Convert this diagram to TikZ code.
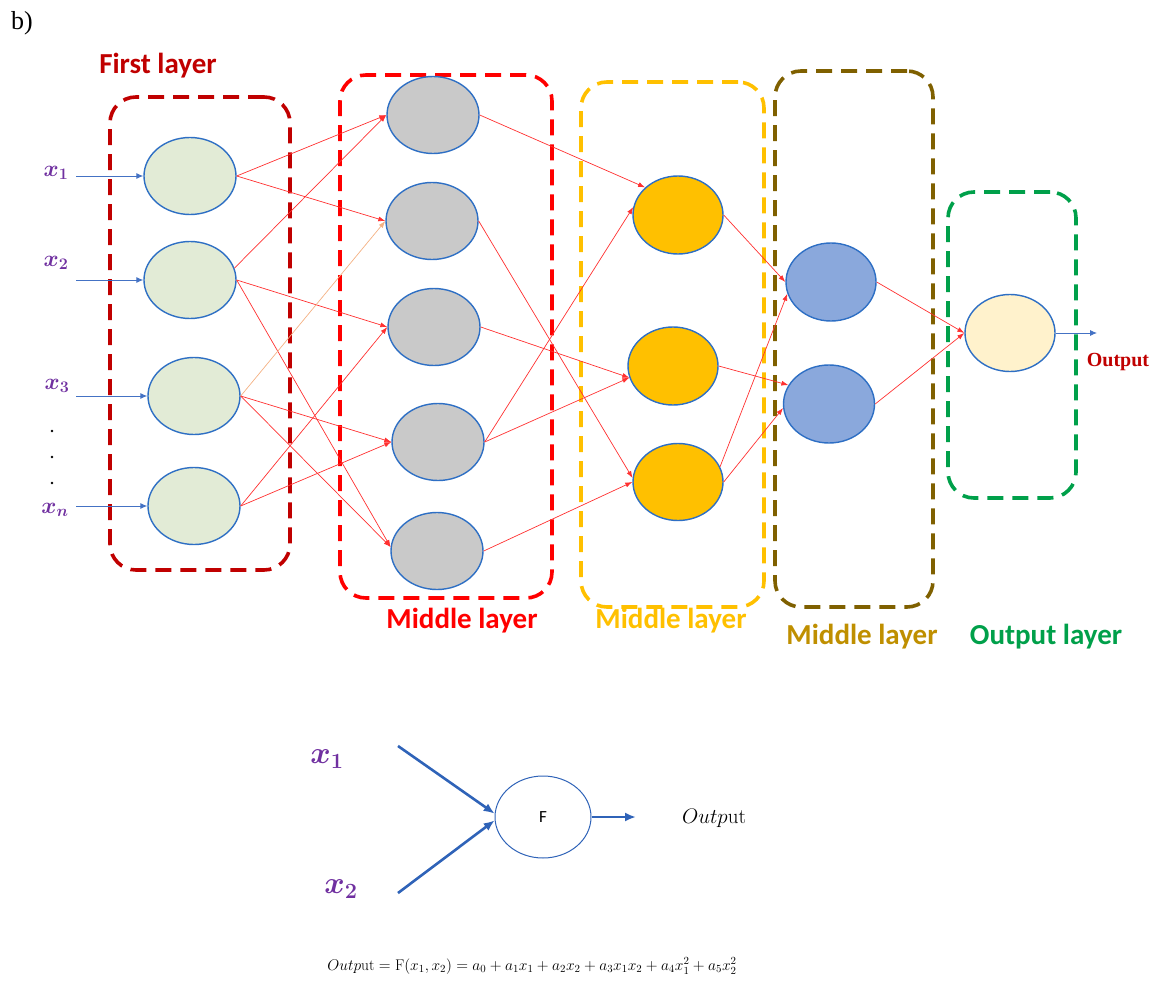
\documentclass[tikz,border=0pt]{standalone}
\usepackage{fix-cm}
\usepackage{amsmath}
\usepackage{fontspec}
\usetikzlibrary{shapes.geometric,arrows.meta}
\newfontfamily\calib{Carlito}
\newfontfamily\tnr{Liberation Serif}
\definecolor{cfirst}{HTML}{C00000}
\definecolor{cmidA}{HTML}{FF0000}
\definecolor{cmidB}{HTML}{FFC000}
\definecolor{cmidC}{HTML}{7F6000}
\definecolor{cmidClab}{HTML}{BF8F00}
\definecolor{cout}{HTML}{00A04A}
\definecolor{gfill}{HTML}{E2EBD6}
\definecolor{grayfill}{HTML}{C9C9C9}
\definecolor{ofill}{HTML}{FFC000}
\definecolor{bfill}{HTML}{8AA8DC}
\definecolor{outfill}{HTML}{FFF2CC}
\definecolor{nblue}{HTML}{2E6FC4}
\definecolor{inblue}{HTML}{4472C4}
\definecolor{xpurple}{HTML}{7030A0}
\definecolor{fblue}{HTML}{2F63B8}
\definecolor{orangeline}{HTML}{F4B183}
\definecolor{redline}{HTML}{FF3030}
\begin{document}
\begin{tikzpicture}[x=1pt,y=-1pt,
  neuron/.style={ellipse, draw=nblue, line width=1.4pt, minimum width=92pt, minimum height=77pt, inner sep=0pt},
  layerbox/.style={draw=#1, rectangle, rounded corners=26pt, line width=3.6pt, dash pattern=on 16pt off 9pt, inner sep=0pt},
  layerlab/.style={text=#1, font=\calib\bfseries\fontsize{29}{33}\selectfont, inner sep=0pt},
  redge/.style={draw=redline, line width=0.7pt, -{Latex[length=7pt,width=5pt]}},
  inarrow/.style={draw=inblue, line width=0.9pt, -{Latex[length=7pt,width=6pt]}},
  xlab/.style={text=xpurple, font=\fontsize{23}{27}\selectfont\boldmath, inner sep=0pt},
  bxlab/.style={text=xpurple, font=\fontsize{31}{35}\selectfont\boldmath, inner sep=0pt},
  bigarrow/.style={draw=fblue, line width=2.6pt, -{Latex[length=11pt,width=9pt]}},
  dotnode/.style={circle, fill=black, inner sep=0pt, minimum size=2.6pt}
]
\useasboundingbox (0,0) rectangle (1158,984);

% label b)
\node[font=\tnr\fontsize{26}{30}\selectfont, inner sep=0pt] (blabel) at (22,23) {b)};

% layer boxes
\node[layerbox=cfirst, minimum width=180pt, minimum height=473pt] (L1) at (200,333.5) {};
\node[layerbox=cmidA, minimum width=212pt, minimum height=523pt] (L2) at (446,336.5) {};
\node[layerbox=cmidB, minimum width=183pt, minimum height=525pt] (L3) at (672.5,344.5) {};
\node[layerbox=cmidC, minimum width=158pt, minimum height=536pt] (L4) at (854,339) {};
\node[layerbox=cout, minimum width=128pt, minimum height=306pt] (L5) at (1012,345) {};

% layer labels
\node[layerlab=cfirst] (T1) at (158,66) {First layer};
\node[layerlab=cmidA] (T2) at (462,621) {Middle layer};
\node[layerlab=cmidB] (T3) at (671,621) {Middle layer};
\node[layerlab=cmidClab] (T4) at (862,637) {Middle layer};
\node[layerlab=cout] (T5) at (1046,637) {Output layer};

% neurons
\node[neuron, fill=gfill] (G1) at (190,176) {};
\node[neuron, fill=gfill] (G2) at (190,280) {};
\node[neuron, fill=gfill] (G3) at (194,396) {};
\node[neuron, fill=gfill] (G4) at (194,506) {};

\node[neuron, fill=grayfill] (M1) at (433,115) {};
\node[neuron, fill=grayfill] (M2) at (432,221) {};
\node[neuron, fill=grayfill] (M3) at (434,327) {};
\node[neuron, fill=grayfill] (M4) at (438,442) {};
\node[neuron, fill=grayfill] (M5) at (437,551) {};

\node[neuron, fill=ofill, minimum width=90pt, minimum height=78pt] (O1) at (678,215) {};
\node[neuron, fill=ofill, minimum width=90pt, minimum height=78pt] (O2) at (673,366) {};
\node[neuron, fill=ofill, minimum width=90pt, minimum height=77pt] (O3) at (678,482) {};

\node[neuron, fill=bfill, minimum width=90pt, minimum height=78pt] (B1) at (831,282) {};
\node[neuron, fill=bfill, minimum width=91pt, minimum height=78pt] (B2) at (829,404) {};

\node[neuron, fill=outfill, minimum width=90pt, minimum height=77pt] (Out) at (1010,333) {};

% input labels
\node[xlab] (x1) at (56,173) {$x_{1}$};
\node[xlab] (x2) at (56,263) {$x_{2}$};
\node[xlab] (x3) at (57,386) {$x_{3}$};
\node[xlab] (xn) at (55,510) {$x_{n}$};
\node[dotnode] (d1) at (52,431) {};
\node[dotnode] (d2) at (52,457) {};
\node[dotnode] (d3) at (52,483) {};

% input arrows
\coordinate (i1) at (76,176);
\coordinate (i2) at (76,280);
\coordinate (i3) at (76,396);
\coordinate (i4) at (76,506);
\draw[inarrow] (i1) -- (G1.west);
\draw[inarrow] (i2) -- (G2.west);
\draw[inarrow] (i3) -- (G3.west);
\draw[inarrow] (i4) -- (G4.west);

% first -> middle 1
\draw[redge] (G1.east) -- (M1.west);
\draw[redge] (G1.east) -- (M2.west);
\draw[redge] (G2.15) -- (M1.west);
\draw[redge] (G2.east) -- (M3.west);
\draw[redge] (G2.east) -- (M5.175);
\draw[redge, draw=orangeline] (G3.east) -- (M2.west);
\draw[redge] (G3.east) -- (M4.west);
\draw[redge] (G3.east) -- (M5.175);
\draw[redge] (G4.east) -- (M3.west);
\draw[redge] (G4.east) -- (M4.west);

% middle 1 -> middle 2
\draw[redge] (M1.east) -- (O1.140);
\draw[redge] (M2.east) -- (O3.175);
\draw[redge] (M3.east) -- (O2.195);
\draw[redge] (M4.east) -- (O1.170);
\draw[redge] (M4.east) -- (O2.195);
\draw[redge] (M5.east) -- (O3.180);

% middle 2 -> middle 3
\draw[redge] (O1.east) -- (B1.west);
\draw[redge] (O2.east) -- (B2.155);
\draw[redge] (O3.20) -- (B1.195);
\draw[redge] (O3.east) -- (B2.185);

% middle 3 -> output
\draw[redge] (B1.east) -- (Out.west);
\draw[redge] (B2.east) -- (Out.west);

% output arrow
\coordinate (o1) at (1097,333);
\draw[inarrow] (Out.east) -- (o1);
\node[text=cfirst, font=\tnr\bfseries\fontsize{20}{24}\selectfont, inner sep=0pt] (outlab) at (1118,362) {Output};

% bottom neuron
\node[ellipse, draw=fblue, line width=1pt, fill=white, minimum width=96pt, minimum height=82pt, inner sep=0pt, font=\calib\fontsize{17}{20}\selectfont] (F) at (543,817) {F};
\node[bxlab] (bx1) at (327,759) {$x_{1}$};
\node[bxlab] (bx2) at (341,889) {$x_{2}$};
\coordinate (s1) at (398,746);
\coordinate (s2) at (398,893);
\coordinate (fo) at (636,817);
\draw[bigarrow] (s1) -- (F.176);
\draw[bigarrow] (s2) -- (F.184);
\draw[bigarrow] (F.east) -- (fo);
\node[font=\fontsize{21}{24}\selectfont, inner sep=0pt] (bout) at (714,818) {$Outp\mathrm{ut}$};

% formula
\node[font=\fontsize{15.5}{18}\selectfont, inner sep=0pt] (formula) at (532,966)
  {$Outp\mathrm{ut} = \mathrm{F}(x_1,x_2) = a_0 + a_1x_1 + a_2x_2 + a_3x_1x_2 + a_4x_1^2 + a_5x_2^2$};
\end{tikzpicture}
\end{document}
